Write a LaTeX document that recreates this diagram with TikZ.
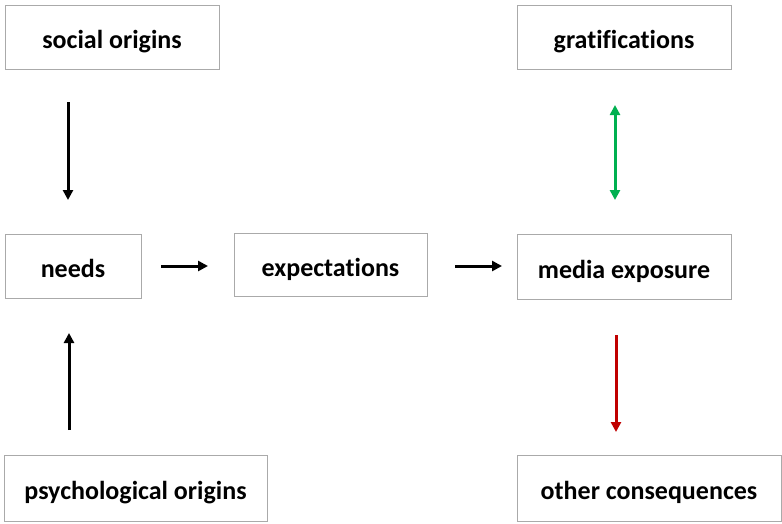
\documentclass[tikz,border=0pt]{standalone}
\usepackage{fontspec}
\setmainfont{Carlito}[Ligatures={NoCommon}]
\usetikzlibrary{arrows.meta}
\definecolor{boxline}{RGB}{170,170,170}
\definecolor{gratgreen}{RGB}{0,176,80}
\definecolor{conred}{RGB}{192,0,0}
\tikzset{
  box/.style={draw=boxline, line width=1pt, fill=white, inner sep=0pt,
    text height=27pt, text depth=4pt,
    font=\fontsize{26}{30}\selectfont\bfseries},
  flow/.style={line width=3pt, -{Triangle[length=10pt,width=10pt]}},
  both/.style={line width=3pt, {Triangle[length=10pt,width=10pt]}-{Triangle[length=10pt,width=10pt]}},
}
\begin{document}
\begin{tikzpicture}[x=1pt,y=-1pt]
\useasboundingbox (0,0) rectangle (782,523);
% boxes: centre, width, height
\node[box, minimum width=214pt, minimum height=64pt] (social) at (112,37) {social origins};
\node[box, minimum width=214pt, minimum height=64pt] (grat) at (624,37) {gratifications};
\node[box, minimum width=136pt, minimum height=64pt] (needs) at (73,266) {needs};
\node[box, minimum width=193pt, minimum height=63pt] (expect) at (330.5,264.5) {expectations};
\node[box, minimum width=214pt, minimum height=65pt] (media) at (624,266.5) {media exposure};
\node[box, minimum width=263pt, minimum height=66pt] (psych) at (135.5,488) {psychological origins};
\node[box, minimum width=264pt, minimum height=66pt] (other) at (649,488) {other consequences};
% free ends of the connectors
\coordinate (s1) at (68,102);  \coordinate (s2) at (68,200);
\coordinate (p1) at (69,430);  \coordinate (p2) at (69,333);
\coordinate (n1) at (161,266); \coordinate (n2) at (208,266);
\coordinate (e1) at (455,266); \coordinate (e2) at (502,266);
\coordinate (g1) at (615,105); \coordinate (g2) at (615,200);
\coordinate (o1) at (616,335); \coordinate (o2) at (616,432);
% connectors
\draw[flow] (s1) -- (s2);
\draw[flow] (p1) -- (p2);
\draw[flow] (n1) -- (n2);
\draw[flow] (e1) -- (e2);
\draw[both, draw=gratgreen, fill=gratgreen] (g1) -- (g2);
\draw[flow, draw=conred, fill=conred] (o1) -- (o2);
\end{tikzpicture}
\end{document}
